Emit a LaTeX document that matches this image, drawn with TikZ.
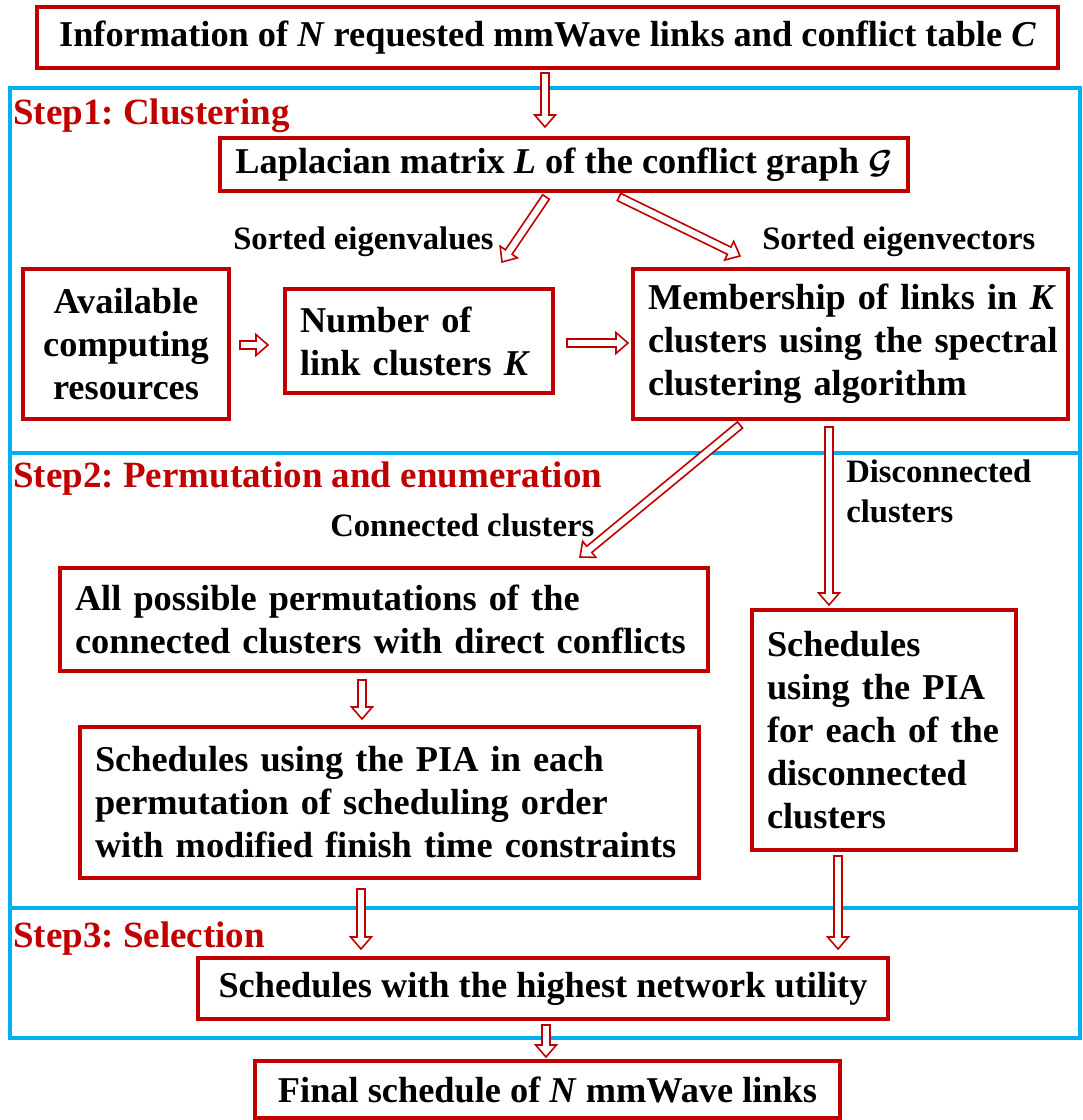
\documentclass[tikz,border=0pt]{standalone}
\usepackage{fontspec}
\setmainfont{Liberation Serif}
\usetikzlibrary{calc}
\frenchspacing

\definecolor{boxred}{HTML}{C00000}
\definecolor{stepblue}{HTML}{00B0F0}

% hollow block arrow from #1 to #2 (named coordinates)
\newcommand\aw{3pt}    % half shaft width
\newcommand\ahw{7.8pt} % half head width
\newcommand\ah{9pt}    % head length
\newcommand\hollowarrow[2]{%
  \draw[arrowline] let \p1=($(#2)-(#1)$), \n1={atan2(\y1,\x1)}, \n2={veclen(\x1,\y1)} in
    [shift={(#1)}, rotate=\n1]
    (0pt,\aw) -- ({\n2-\ah},\aw) -- ({\n2-\ah},\ahw) -- (\n2,0pt)
    -- ({\n2-\ah},-\ahw) -- ({\n2-\ah},-\aw) -- (0pt,-\aw) -- cycle;}

\tikzset{
  box/.style={draw=boxred, line width=2.3pt, fill=white, inner sep=0pt,
    font=\bfseries\fontsize{27.25}{32.25}\selectfont},
  lbox/.style={box, align=left, inner xsep=11.25pt},
  cbox/.style={box, align=center},
  arrowline/.style={draw=boxred, line width=1.2pt, fill=white, line join=miter},
  steplabel/.style={anchor=base west, inner sep=0pt, text=boxred,
    font=\bfseries\fontsize{27.75}{32}\selectfont},
  edgelabel/.style={anchor=base west, inner sep=0pt, align=left,
    font=\bfseries\fontsize{24.5}{30}\selectfont},
  frame/.style={draw=stepblue, line width=2.6pt}
}

\begin{document}
\begin{tikzpicture}[x=0.75pt, y=-0.75pt]
\useasboundingbox (0,0) rectangle (1082,1120);

% step frames
\draw[frame] (10,88) rectangle (1080,453);
\draw[frame] (10,453) rectangle (1080,908);
\draw[frame] (10,908) rectangle (1080,1038);

\node[steplabel] (s1) at (13,125) {Step1: Clustering};
\node[steplabel] (s2) at (13,487) {Step2: Permutation and enumeration};
\node[steplabel] (s3) at (13,947) {Step3: Selection};

% boxes
\node[cbox, minimum width=765.75pt, minimum height=45.75pt] (info) at (547.5,37.5)
  {Information of \textit{N} requested mmWave links and conflict table \textit{C}};
\node[cbox, minimum width=516pt, minimum height=39.75pt] (lap) at (564,164.5)
  {Laplacian matrix \textit{L} of the conflict graph {\boldmath$\mathcal{G}$}};
\node[cbox, minimum width=154.5pt, minimum height=112.5pt] (avail) at (126,344)
  {Available\\computing\\resources};
\node[lbox, text width=178.5pt, minimum height=78pt] (num) at (419,341)
  {Number of\\link clusters \textit{K}};
\node[lbox, text width=303.75pt, minimum height=112.5pt] (mem) at (850.5,344)
  {\mbox{Membership of links in \textit{K}}\\\mbox{clusters using the spectral}\\\mbox{clustering algorithm}};
\node[lbox, text width=463.5pt, minimum height=77.25pt] (perm) at (384,619.5)
  {\mbox{All possible permutations of the}\\\mbox{connected clusters with direct conflicts}};
\node[lbox, text width=441.75pt, minimum height=113.25pt] (sch1) at (389.5,802.5)
  {\mbox{Schedules using the PIA in each}\\\mbox{permutation of scheduling order}\\\mbox{with modified finish time constraints}};
\node[lbox, text width=175.5pt, minimum height=180pt] (sch2) at (884,730)
  {\mbox{Schedules}\\\mbox{using the PIA}\\\mbox{for each of the}\\\mbox{disconnected}\\\mbox{clusters}};
\node[cbox, minimum width=517.5pt, minimum height=45.75pt] (util) at (543,988.5)
  {Schedules with the highest network utility};
\node[cbox, minimum width=438.75pt, minimum height=42.75pt] (final) at (547.5,1089.5)
  {Final schedule of \textit{N} mmWave links};

% edge labels
\node[edgelabel] (lval) at (233,249) {Sorted eigenvalues};
\node[edgelabel] (lvec) at (762,249) {Sorted eigenvectors};
\node[edgelabel] (lcon) at (330,536) {Connected clusters};
\node[edgelabel] (ldis) at (846,522) {Disconnected\\clusters};

% arrow end points
\coordinate (infoOut) at (545,73);   \coordinate (lapIn)   at (545,127);
\coordinate (lapOutA) at (546,197);  \coordinate (numIn)   at (502,262);
\coordinate (lapOutB) at (619,197);  \coordinate (memIn)   at (740,256);
\coordinate (avOut)   at (240,345);  \coordinate (numInL)  at (268,345);
\coordinate (numOut)  at (567,343);  \coordinate (memInL)  at (628,343);
\coordinate (memOutA) at (740,425);  \coordinate (permIn)  at (580,557);
\coordinate (memOutB) at (829,427);  \coordinate (sch2In)  at (829,605);
\coordinate (permOut) at (362,680);  \coordinate (sch1In)  at (362,719);
\coordinate (sch1Out) at (361,889);  \coordinate (utilInA) at (361,949);
\coordinate (sch2Out) at (838,856);  \coordinate (utilInB) at (838,949);
\coordinate (utilOut) at (546,1025); \coordinate (finalIn) at (546,1057);

\hollowarrow{infoOut}{lapIn}
\hollowarrow{lapOutA}{numIn}
\hollowarrow{lapOutB}{memIn}
\hollowarrow{avOut}{numInL}
\hollowarrow{numOut}{memInL}
\hollowarrow{memOutA}{permIn}
\hollowarrow{memOutB}{sch2In}
\hollowarrow{permOut}{sch1In}
\hollowarrow{sch1Out}{utilInA}
\hollowarrow{sch2Out}{utilInB}
\hollowarrow{utilOut}{finalIn}
\end{tikzpicture}
\end{document}
